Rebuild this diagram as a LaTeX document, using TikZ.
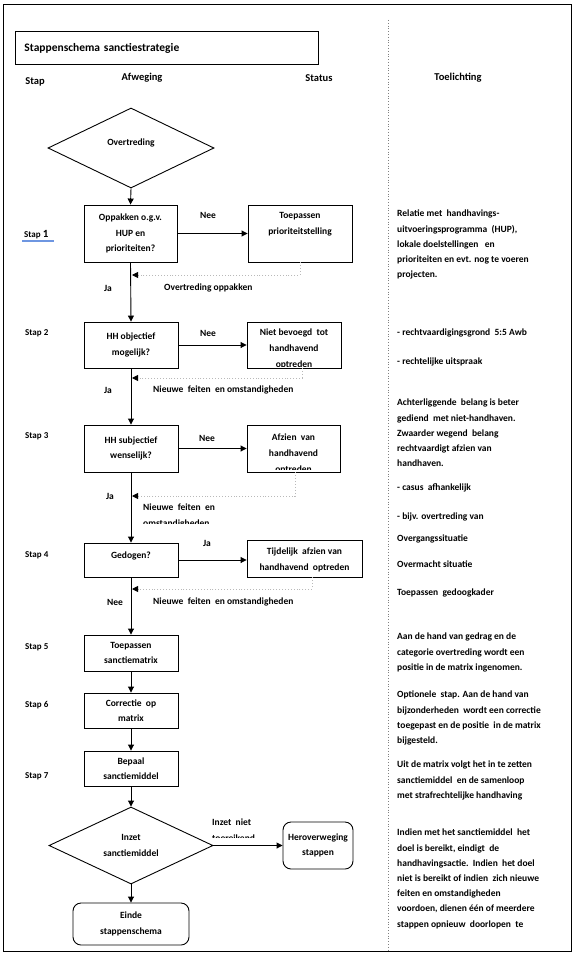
\documentclass[tikz,border=0pt]{standalone}
\usepackage{fontspec}
\setmainfont{Carlito}
\usetikzlibrary{arrows.meta,shapes.geometric}
\begin{document}
\begin{tikzpicture}[x=1pt,y=-1pt,
  every node/.style={font=\fontsize{9.5}{15.5}\selectfont\bfseries, inner sep=0pt},
  box/.style={draw, line width=0.9pt, align=center},
  rbox/.style={box, rounded corners=8pt},
  dia/.style={draw, line width=0.9pt, shape=diamond, align=center},
  arr/.style={line width=0.9pt, -{Triangle[length=6pt,width=6pt]}},
  ret/.style={draw=gray!55, dotted, line width=0.9pt, -{Triangle[length=6pt,width=6pt,black]}},
  hdr/.style={font=\fontsize{10.5}{13}\selectfont\bfseries},
  stap/.style={anchor=west, font=\fontsize{9}{11}\selectfont\bfseries},
  tl/.style={anchor=north west, align=left, font=\fontsize{9.5}{15.2}\selectfont\bfseries},
  stxt/.style={anchor=north, align=center, font=\fontsize{9.5}{16}\selectfont\bfseries},
  lbl/.style={anchor=west}
]
\useasboundingbox (0,0) rectangle (574,955);
% frame and divider
\draw[line width=0.9pt] (3.5,4) rectangle (571,951.5);
\draw[gray, dotted, line width=0.8pt] (388,20) -- (388,951.5);

% title and headers
\node[box, text width=285pt, inner xsep=9pt, minimum height=33pt, align=left,
  anchor=north west, font=\fontsize{11.5}{14}\selectfont\bfseries] (title) at (15,31) {Stappenschema sanctiestrategie};
\node[hdr] (hstap) at (35,82) {Stap};
\node[hdr] (hafw) at (142,78) {Afweging};
\node[hdr] (hstat) at (319,78) {Status};
\node[hdr] (htoel) at (458,78) {Toelichting};

% step labels
\node[stap] (st1) at (24,235) {Stap \fontsize{11}{11}\selectfont 1};
\draw[color={rgb,255:red,110;green,150;blue,225}, line width=1.4pt] (22,241) -- (54,241);
\node[stap] (st2) at (25,333) {Stap 2};
\node[stap] (st3) at (25,436) {Stap 3};
\node[stap] (st4) at (25,555) {Stap 4};
\node[stap] (st5) at (25,647) {Stap 5};
\node[stap] (st6) at (25,705) {Stap 6};
\node[stap] (st7) at (25,776) {Stap 7};

% decision column
\node[dia, minimum width=166pt, minimum height=80pt] (d1) at (131,148) {\raisebox{12pt}{Overtreding}};
\node[box, minimum width=93pt, minimum height=57pt] (b1) at (130.5,233.5) {Oppakken o.g.v.\\HUP en\\prioriteiten?};
\node[box, minimum width=94pt, minimum height=46pt] (b2) at (131,345) {HH objectief\\mogelijk?};
\node[box, minimum width=94pt, minimum height=47pt] (b3) at (131,448.5) {HH subjectief\\wenselijk?};
\node[box, minimum width=94pt, minimum height=34pt, text height=7pt, text depth=11pt] (b4) at (131,560) {Gedogen?};
\node[box, minimum width=94pt, minimum height=36pt] (b5) at (131,653) {Toepassen\\sanctiematrix};
\node[box, minimum width=94pt, minimum height=35pt] (b6) at (131,710.5) {Correctie\ \ op\\matrix};
\node[box, minimum width=94pt, minimum height=35pt] (b7) at (131,768.5) {Bepaal\\sanctiemiddel};
\node[dia, minimum width=164pt, minimum height=71pt] (d2) at (131,845.5) {Inzet\\sanctiemiddel};
\node[rbox, minimum width=116pt, minimum height=42pt] (e) at (131,924) {Einde\\stappenschema};

% status column
\node[box, minimum width=104pt, minimum height=57pt] (s1) at (300,233.5) {};
\node[stxt] (s1t) at (300,212) {Toepassen\\prioriteitstelling};
\node[box, minimum width=94pt, minimum height=46pt] (s2) at (294,345) {};
\begin{scope}
\clip (247.5,323) rectangle (340.5,366.5);
\node[stxt] (s2t) at (294,328.5) {Niet bevoegd\ \ tot\\handhavend\\optreden};
\end{scope}
\node[box, minimum width=93pt, minimum height=47pt] (s3) at (293.5,448.5) {};
\begin{scope}
\clip (247.5,426) rectangle (339.5,469.5);
\node[stxt] (s3t) at (293.5,433.5) {Afzien\ \ van\\handhavend\\optreden};
\end{scope}
\node[box, minimum width=115pt, minimum height=37pt] (s4) at (304.5,558.5) {};
\node[stxt] (s4t) at (304.5,548) {Tijdelijk\ \ afzien van\\handhavend\ \ optreden};
\node[rbox, minimum width=70pt, minimum height=47pt] (h) at (318,845.5) {Heroverweging\\stappen};

% main flow
\draw[arr] (d1.south) -- (b1.north);
\draw[arr] (b1.south) -- (b2.north);
\draw[arr] (b2.south) -- (b3.north);
\draw[arr] (b3.south) -- (b4.north);
\draw[arr] (b4.south) -- (b5.north);
\draw[arr] (b5.south) -- (b6.north);
\draw[arr] (b6.south) -- (b7.north);
\draw[arr] (b7.south) -- (d2.north);
\draw[arr] (d2.south) -- (e.north);
\draw[arr] (d2.east) -- (h.west);
\draw[arr] (b1.east) -- (s1.west);
\draw[arr] (b2.east) -- (s2.west);
\draw[arr] (b3.east) -- (s3.west);
\draw[arr] (b4.east) -- (b4.east -| s4.west);

% return lines
\coordinate (r1) at (132,275);
\coordinate (r2) at (132,378);
\coordinate (r3) at (132,496);
\coordinate (r4) at (132,589);
\draw[ret] (s1.south) |- (r1);
\draw[ret] ([xshift=8pt]s2.south) |- (r2);
\draw[ret] ([xshift=1.5pt]s3.south) |- (r3);
\draw[ret] ([xshift=7.5pt]s4.south) |- (r4);

% labels
\node (n1) at (208,215) {Nee};
\node (n2) at (208,333) {Nee};
\node (n3) at (207,438) {Nee};
\node (j4) at (207,543) {Ja};
\node (j1) at (108,288) {Ja};
\node (j2) at (108,390) {Ja};
\node (j3) at (110,496) {Ja};
\node (n4) at (115,602) {Nee};
\node[lbl] (l1) at (164,288) {Overtreding oppakken};
\node[lbl] (l2) at (153,390) {Nieuwe\ \ feiten\ \ en omstandigheden};
\begin{scope}
\clip (138,498) rectangle (260,523.5);
\node[anchor=north west, align=left] (l3) at (143,504) {Nieuwe\ \ feiten\ \ en\\omstandigheden};
\end{scope}
\node[lbl] (l4) at (153,602) {Nieuwe\ \ feiten\ \ en omstandigheden};
\begin{scope}
\clip (205,812) rectangle (282,837);
\node[anchor=north west, align=left] (l5) at (212,819) {Inzet\ \ niet\\toereikend};
\end{scope}

% explanation column
\node[tl] (t1) at (397,210) {Relatie met\ \ handhavings-\\uitvoeringsprogramma\ \ (HUP),\\lokale doelstellingen\ \ \ en\\prioriteiten en evt. nog te voeren\\projecten.};
\node[tl] (t2) at (397,329) {- rechtvaardigingsgrond\ \ 5:5 Awb};
\node[tl] (t3) at (397,358) {- rechtelijke uitspraak};
\node[tl] (t4) at (397,399) {Achterliggende\ \ belang is beter\\gediend\ \ met niet-handhaven.\\Zwaarder wegend\ \ belang\\rechtvaardigt afzien van\\handhaven.};
\node[tl] (t5) at (397,484) {- casus\ \ afhankelijk};
\node[tl] (t6) at (397,513) {- bijv. overtreding van};
\node[tl] (t7) at (397,535) {Overgangssituatie};
\node[tl] (t8) at (397,561) {Overmacht situatie};
\node[tl] (t9) at (397,589) {Toepassen\ \ gedoogkader};
\node[tl] (t10) at (397,633) {Aan de hand van gedrag en de\\categorie overtreding wordt een\\positie in de matrix ingenomen.};
\node[tl] (t11) at (397,691) {Optionele\ \ stap. Aan de hand van\\bijzonderheden\ \ wordt een correctie\\toegepast en de positie\ \ in de matrix\\bijgesteld.};
\node[tl] (t12) at (397,761) {Uit de matrix volgt het in te zetten\\sanctiemiddel\ \ en de samenloop\\met strafrechtelijke handhaving};
\node[tl] (t13) at (397,829) {Indien met het sanctiemiddel\ \ het\\doel is bereikt, eindigt\ \ de\\handhavingsactie.\ \ Indien\ \ het doel\\niet is bereikt of indien\ \ zich nieuwe\\feiten en omstandigheden\\voordoen, dienen één of meerdere\\stappen opnieuw\ \ doorlopen\ \ te};
\end{tikzpicture}
\end{document}
